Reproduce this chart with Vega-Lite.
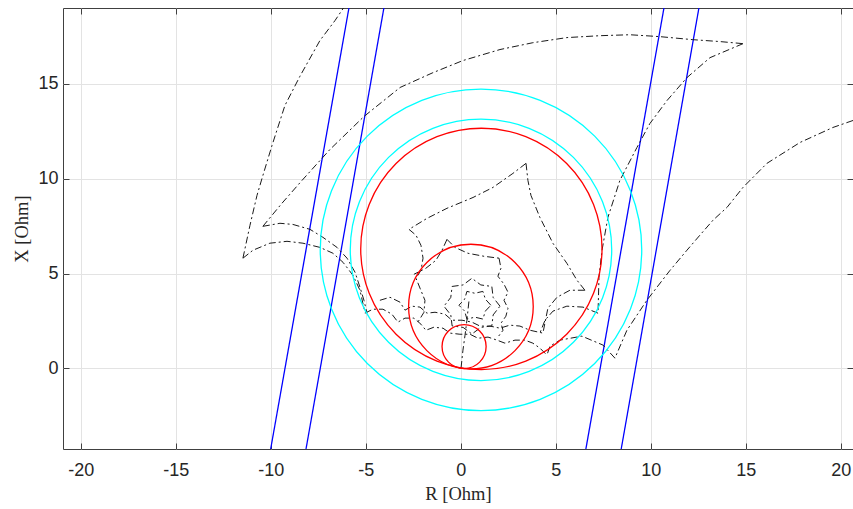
{
  "$schema": "https://vega.github.io/schema/vega-lite/v6.json",
  "width": 790,
  "height": 441,
  "autosize": {"type": "none"},
  "padding": {"left": 63, "top": 8, "right": 0, "bottom": 60},
  "background": "#ffffff",
  "config": {
    "view": {"stroke": "#404040", "strokeWidth": 1},
    "axis": {
      "labelFont": "Liberation Sans", "labelFontSize": 18, "labelColor": "#262626",
      "titleFont": "Liberation Serif", "titleFontSize": 18.5, "titleFontWeight": "normal", "titleColor": "#262626",
      "domainColor": "#404040", "tickColor": "#404040", "gridColor": "#e3e3e3", "gridWidth": 1
    }
  },
  "datasets": {
    "blue": [
      {"id": "a", "r": -10.0, "x": -4.25}, {"id": "a", "r": -5.88, "x": 19.0},
      {"id": "b", "r": -8.14, "x": -4.25}, {"id": "b", "r": -4.04, "x": 19.0},
      {"id": "c", "r": 6.59, "x": -4.25}, {"id": "c", "r": 10.7, "x": 19.0},
      {"id": "d", "r": 8.45, "x": -4.25}, {"id": "d", "r": 12.54, "x": 19.0}
    ],
    "red": [
      {"cr": 0.18, "cx": 1.15, "rad": 1.16},
      {"cr": 0.54, "cx": 3.26, "rad": 3.28},
      {"cr": 1.09, "cx": 6.3, "rad": 6.35}
    ],
    "cyan": [
      {"cr": 1.07, "cx": 6.25, "rad": 6.88},
      {"cr": 1.07, "cx": 6.25, "rad": 8.46}
    ],
    "curves": [
      {"c": "C1", "i": 0, "r": -11.46, "x": 5.81}, {"c": "C1", "i": 1, "r": -11.09, "x": 7.54}, {"c": "C1", "i": 2, "r": -10.72, "x": 9.12}, {"c": "C1", "i": 3, "r": -10.41, "x": 10.17}, {"c": "C1", "i": 4, "r": -9.93, "x": 11.75}, {"c": "C1", "i": 5, "r": -9.25, "x": 13.86}, {"c": "C1", "i": 6, "r": -8.46, "x": 15.4}, {"c": "C1", "i": 7, "r": -7.41, "x": 17.28}, {"c": "C1", "i": 8, "r": -6.62, "x": 18.33}, {"c": "C1", "i": 9, "r": -5.98, "x": 19.28},
      {"c": "C2", "i": 0, "r": -11.46, "x": 5.81}, {"c": "C2", "i": 1, "r": -10.93, "x": 6.23}, {"c": "C2", "i": 2, "r": -10.04, "x": 6.6}, {"c": "C2", "i": 3, "r": -9.14, "x": 6.7}, {"c": "C2", "i": 4, "r": -8.3, "x": 6.6}, {"c": "C2", "i": 5, "r": -7.41, "x": 6.38}, {"c": "C2", "i": 6, "r": -6.72, "x": 6.07}, {"c": "C2", "i": 7, "r": -6.19, "x": 5.59}, {"c": "C2", "i": 8, "r": -5.67, "x": 4.91}, {"c": "C2", "i": 9, "r": -5.3, "x": 4.12}, {"c": "C2", "i": 10, "r": -5.04, "x": 2.96},
      {"c": "C4", "i": 0, "r": -10.41, "x": 7.49}, {"c": "C4", "i": 1, "r": -9.51, "x": 7.65}, {"c": "C4", "i": 2, "r": -8.83, "x": 7.59}, {"c": "C4", "i": 3, "r": -7.93, "x": 7.33}, {"c": "C4", "i": 4, "r": -7.25, "x": 6.91}, {"c": "C4", "i": 5, "r": -6.51, "x": 6.38}, {"c": "C4", "i": 6, "r": -5.98, "x": 5.81}, {"c": "C4", "i": 7, "r": -5.56, "x": 5.07}, {"c": "C4", "i": 8, "r": -5.3, "x": 4.28}, {"c": "C4", "i": 9, "r": -5.09, "x": 3.59}, {"c": "C4", "i": 10, "r": -4.93, "x": 2.91},
      {"c": "C3", "i": 0, "r": -10.41, "x": 7.49}, {"c": "C3", "i": 1, "r": -9.41, "x": 8.7}, {"c": "C3", "i": 2, "r": -8.35, "x": 9.91}, {"c": "C3", "i": 3, "r": -6.88, "x": 11.54}, {"c": "C3", "i": 4, "r": -5.09, "x": 13.28}, {"c": "C3", "i": 5, "r": -3.19, "x": 14.81}, {"c": "C3", "i": 6, "r": -1.46, "x": 15.59}, {"c": "C3", "i": 7, "r": 0.12, "x": 16.23}, {"c": "C3", "i": 8, "r": 2.07, "x": 16.81}, {"c": "C3", "i": 9, "r": 3.8, "x": 17.17}, {"c": "C3", "i": 10, "r": 5.59, "x": 17.44}, {"c": "C3", "i": 11, "r": 7.33, "x": 17.54}, {"c": "C3", "i": 12, "r": 8.91, "x": 17.59}, {"c": "C3", "i": 13, "r": 10.49, "x": 17.49}, {"c": "C3", "i": 14, "r": 12.22, "x": 17.33}, {"c": "C3", "i": 15, "r": 13.65, "x": 17.23}, {"c": "C3", "i": 16, "r": 14.86, "x": 17.12},
      {"c": "C5", "i": 0, "r": 14.86, "x": 17.12}, {"c": "C5", "i": 1, "r": 13.12, "x": 16.38}, {"c": "C5", "i": 2, "r": 11.91, "x": 15.33}, {"c": "C5", "i": 3, "r": 10.86, "x": 14.12}, {"c": "C5", "i": 4, "r": 9.96, "x": 12.91}, {"c": "C5", "i": 5, "r": 9.28, "x": 11.65}, {"c": "C5", "i": 6, "r": 8.38, "x": 9.91}, {"c": "C5", "i": 7, "r": 7.75, "x": 7.96}, {"c": "C5", "i": 8, "r": 7.44, "x": 6.23}, {"c": "C5", "i": 9, "r": 7.28, "x": 4.81}, {"c": "C5", "i": 10, "r": 7.23, "x": 2.91},
      {"c": "S1", "i": 0, "r": 20.65, "x": 13.07}, {"c": "S1", "i": 1, "r": 19.59, "x": 12.7}, {"c": "S1", "i": 2, "r": 17.86, "x": 11.91}, {"c": "S1", "i": 3, "r": 16.12, "x": 10.81}, {"c": "S1", "i": 4, "r": 14.86, "x": 9.54}, {"c": "S1", "i": 5, "r": 14.02, "x": 8.49}, {"c": "S1", "i": 6, "r": 13.28, "x": 7.81}, {"c": "S1", "i": 7, "r": 12.59, "x": 7.02}, {"c": "S1", "i": 8, "r": 11.91, "x": 6.23}, {"c": "S1", "i": 9, "r": 11.02, "x": 5.17}, {"c": "S1", "i": 10, "r": 9.8, "x": 3.59}, {"c": "S1", "i": 11, "r": 8.75, "x": 2.01}, {"c": "S1", "i": 12, "r": 8.12, "x": 0.54},
      {"c": "S2", "i": 0, "r": 8.12, "x": 0.54}, {"c": "S2", "i": 1, "r": 7.49, "x": 1.23}, {"c": "S2", "i": 2, "r": 6.38, "x": 1.7}, {"c": "S2", "i": 3, "r": 5.23, "x": 1.49}, {"c": "S2", "i": 4, "r": 4.7, "x": 1.17}, {"c": "S2", "i": 5, "r": 4.54, "x": 0.7},
      {"c": "C6", "i": 0, "r": 3.44, "x": 10.81}, {"c": "C6", "i": 1, "r": 3.54, "x": 9.91}, {"c": "C6", "i": 2, "r": 3.7, "x": 9.12}, {"c": "C6", "i": 3, "r": 4.17, "x": 7.96}, {"c": "C6", "i": 4, "r": 4.86, "x": 6.59}, {"c": "C6", "i": 5, "r": 5.59, "x": 5.54}, {"c": "C6", "i": 6, "r": 6.12, "x": 4.65}, {"c": "C6", "i": 7, "r": 6.54, "x": 4.12},
      {"c": "C7", "i": 0, "r": 3.44, "x": 10.81}, {"c": "C7", "i": 1, "r": 2.75, "x": 10.28}, {"c": "C7", "i": 2, "r": 1.7, "x": 9.54}, {"c": "C7", "i": 3, "r": 0.65, "x": 9.01}, {"c": "C7", "i": 4, "r": -0.72, "x": 8.44}, {"c": "C7", "i": 5, "r": -1.77, "x": 7.91}, {"c": "C7", "i": 6, "r": -2.72, "x": 7.33},
      {"c": "Aa", "i": 0, "r": 6.54, "x": 4.12}, {"c": "Aa", "i": 1, "r": 5.75, "x": 4.12}, {"c": "Aa", "i": 2, "r": 5.07, "x": 3.75}, {"c": "Aa", "i": 3, "r": 4.59, "x": 3.17}, {"c": "Aa", "i": 4, "r": 4.33, "x": 1.86},
      {"c": "Ab", "i": 0, "r": 7.23, "x": 2.91}, {"c": "Ab", "i": 1, "r": 6.44, "x": 3.23}, {"c": "Ab", "i": 2, "r": 5.59, "x": 3.28}, {"c": "Ab", "i": 3, "r": 4.86, "x": 3.02}, {"c": "Ab", "i": 4, "r": 4.44, "x": 2.54}, {"c": "Ab", "i": 5, "r": 4.17, "x": 1.86},
      {"c": "M1", "i": 0, "r": -2.72, "x": 7.33}, {"c": "M1", "i": 1, "r": -2.35, "x": 7.02}, {"c": "M1", "i": 2, "r": -2.09, "x": 6.49}, {"c": "M1", "i": 3, "r": -1.98, "x": 5.81}, {"c": "M1", "i": 4, "r": -2.09, "x": 5.17}, {"c": "M1", "i": 5, "r": -2.35, "x": 4.75}, {"c": "M1", "i": 6, "r": -2.14, "x": 4.23}, {"c": "M1", "i": 7, "r": -1.88, "x": 3.59}, {"c": "M1", "i": 8, "r": -1.93, "x": 2.96}, {"c": "M1", "i": 9, "r": -2.25, "x": 2.44},
      {"c": "M2", "i": 0, "r": -0.72, "x": 6.8}, {"c": "M2", "i": 1, "r": -0.3, "x": 6.38}, {"c": "M2", "i": 2, "r": 0.38, "x": 6.07}, {"c": "M2", "i": 3, "r": 1.23, "x": 5.91}, {"c": "M2", "i": 4, "r": 2.02, "x": 5.81},
      {"c": "M2b", "i": 0, "r": -0.72, "x": 6.8}, {"c": "M2b", "i": 1, "r": -0.98, "x": 6.23}, {"c": "M2b", "i": 2, "r": -1.3, "x": 5.7}, {"c": "M2b", "i": 3, "r": -1.83, "x": 5.28}, {"c": "M2b", "i": 4, "r": -2.46, "x": 4.96},
      {"c": "M3", "i": 0, "r": 2.02, "x": 5.81}, {"c": "M3", "i": 1, "r": 2.12, "x": 5.28}, {"c": "M3", "i": 2, "r": 1.96, "x": 4.86}, {"c": "M3", "i": 3, "r": 2.28, "x": 4.44}, {"c": "M3", "i": 4, "r": 2.49, "x": 4.02}, {"c": "M3", "i": 5, "r": 2.28, "x": 3.59}, {"c": "M3", "i": 6, "r": 2.49, "x": 3.17}, {"c": "M3", "i": 7, "r": 2.38, "x": 2.75}, {"c": "M3", "i": 8, "r": 2.12, "x": 2.38}, {"c": "M3", "i": 9, "r": 2.23, "x": 2.01}, {"c": "M3", "i": 10, "r": 1.96, "x": 1.65},
      {"c": "R1", "i": 0, "r": 2.07, "x": 3.28}, {"c": "R1", "i": 1, "r": 1.71, "x": 3.74}, {"c": "R1", "i": 2, "r": 1.64, "x": 4.32}, {"c": "R1", "i": 3, "r": 1.06, "x": 4.4}, {"c": "R1", "i": 4, "r": 0.59, "x": 4.75}, {"c": "R1", "i": 5, "r": 0.13, "x": 4.4}, {"c": "R1", "i": 6, "r": -0.45, "x": 4.32}, {"c": "R1", "i": 7, "r": -0.52, "x": 3.74}, {"c": "R1", "i": 8, "r": -0.88, "x": 3.28}, {"c": "R1", "i": 9, "r": -0.52, "x": 2.82}, {"c": "R1", "i": 10, "r": -0.45, "x": 2.24}, {"c": "R1", "i": 11, "r": 0.13, "x": 2.16}, {"c": "R1", "i": 12, "r": 0.59, "x": 1.81}, {"c": "R1", "i": 13, "r": 1.06, "x": 2.16}, {"c": "R1", "i": 14, "r": 1.64, "x": 2.24}, {"c": "R1", "i": 15, "r": 1.71, "x": 2.82}, {"c": "R1", "i": 16, "r": 2.07, "x": 3.28},
      {"c": "R2", "i": 0, "r": 1.59, "x": 3.33}, {"c": "R2", "i": 1, "r": 1.3, "x": 3.65}, {"c": "R2", "i": 2, "r": 1.17, "x": 4.06}, {"c": "R2", "i": 3, "r": 0.75, "x": 3.96}, {"c": "R2", "i": 4, "r": 0.33, "x": 4.06}, {"c": "R2", "i": 5, "r": 0.21, "x": 3.65}, {"c": "R2", "i": 6, "r": -0.09, "x": 3.33}, {"c": "R2", "i": 7, "r": 0.21, "x": 3.02}, {"c": "R2", "i": 8, "r": 0.33, "x": 2.6}, {"c": "R2", "i": 9, "r": 0.75, "x": 2.7}, {"c": "R2", "i": 10, "r": 1.17, "x": 2.6}, {"c": "R2", "i": 11, "r": 1.3, "x": 3.02}, {"c": "R2", "i": 12, "r": 1.59, "x": 3.33},
      {"c": "V", "i": 0, "r": 0.02, "x": 0.02}, {"c": "V", "i": 1, "r": 0.12, "x": 0.96}, {"c": "V", "i": 2, "r": 0.23, "x": 1.75}, {"c": "V", "i": 3, "r": 0.33, "x": 2.54}, {"c": "V", "i": 4, "r": 0.44, "x": 3.59},
      {"c": "LBa", "i": 0, "r": -5.04, "x": 2.91}, {"c": "LBa", "i": 1, "r": -4.62, "x": 3.12}, {"c": "LBa", "i": 2, "r": -4.09, "x": 3.12}, {"c": "LBa", "i": 3, "r": -3.62, "x": 2.86}, {"c": "LBa", "i": 4, "r": -3.3, "x": 2.44}, {"c": "LBa", "i": 5, "r": -2.93, "x": 2.65}, {"c": "LBa", "i": 6, "r": -2.46, "x": 2.65}, {"c": "LBa", "i": 7, "r": -2.09, "x": 2.33}, {"c": "LBa", "i": 8, "r": -1.83, "x": 2.01}, {"c": "LBa", "i": 9, "r": -1.41, "x": 2.17}, {"c": "LBa", "i": 10, "r": -0.93, "x": 2.12}, {"c": "LBa", "i": 11, "r": -0.56, "x": 1.86}, {"c": "LBa", "i": 12, "r": -0.04, "x": 1.8}, {"c": "LBa", "i": 13, "r": 0.49, "x": 1.8}, {"c": "LBa", "i": 14, "r": 0.91, "x": 1.59}, {"c": "LBa", "i": 15, "r": 1.44, "x": 1.65}, {"c": "LBa", "i": 16, "r": 1.91, "x": 1.49}, {"c": "LBa", "i": 17, "r": 2.33, "x": 1.33}, {"c": "LBa", "i": 18, "r": 2.86, "x": 1.49}, {"c": "LBa", "i": 19, "r": 3.38, "x": 1.49}, {"c": "LBa", "i": 20, "r": 3.8, "x": 1.33}, {"c": "LBa", "i": 21, "r": 4.17, "x": 1.07}, {"c": "LBa", "i": 22, "r": 4.54, "x": 0.7},
      {"c": "LBb", "i": 0, "r": -4.25, "x": 3.59}, {"c": "LBb", "i": 1, "r": -3.72, "x": 3.75}, {"c": "LBb", "i": 2, "r": -3.19, "x": 3.49}, {"c": "LBb", "i": 3, "r": -2.93, "x": 3.07}, {"c": "LBb", "i": 4, "r": -2.56, "x": 3.28}, {"c": "LBb", "i": 5, "r": -2.14, "x": 3.23}, {"c": "LBb", "i": 6, "r": -1.77, "x": 2.91}, {"c": "LBb", "i": 7, "r": -1.35, "x": 2.96}, {"c": "LBb", "i": 8, "r": -0.83, "x": 2.86}, {"c": "LBb", "i": 9, "r": -0.46, "x": 2.54}, {"c": "LBb", "i": 10, "r": 0.07, "x": 2.54}, {"c": "LBb", "i": 11, "r": 0.59, "x": 2.44}, {"c": "LBb", "i": 12, "r": 1.02, "x": 2.23}, {"c": "LBb", "i": 13, "r": 1.54, "x": 2.23}, {"c": "LBb", "i": 14, "r": 2.07, "x": 2.12}, {"c": "LBb", "i": 15, "r": 2.59, "x": 2.28}, {"c": "LBb", "i": 16, "r": 3.12, "x": 2.23}, {"c": "LBb", "i": 17, "r": 3.65, "x": 2.01}, {"c": "LBb", "i": 18, "r": 4.33, "x": 1.86}
    ]
  },
  "resolve": {"axis": {"x": "independent", "y": "independent"}},
  "layer": [
    {
      "data": {"name": "blue"},
      "mark": {"type": "line", "color": "#0000ff", "strokeWidth": 1.3, "clip": true},
      "encoding": {
        "x": {"field": "r", "type": "quantitative", "scale": {"domain": [-20.93, 20.65], "nice": false, "zero": false},
              "axis": {"values": [-20, -15, -10, -5, 0, 5, 10, 15, 20], "labelExpr": "datum.value < 0 ? '-' + abs(datum.value) : '' + datum.value", "title": "R [Ohm]", "tickSize": -6, "labelPadding": 18, "titlePadding": 5, "grid": true, "domain": false}},
        "y": {"field": "x", "type": "quantitative", "scale": {"domain": [-4.25, 19.0], "nice": false, "zero": false},
              "axis": {"values": [0, 5, 10, 15], "labelExpr": "datum.value < 0 ? '-' + abs(datum.value) : '' + datum.value", "title": "X [Ohm]", "tickSize": -6, "labelPadding": 11, "titlePadding": 6, "grid": true, "domain": false}},
        "detail": {"field": "id"}
      }
    },
    {
      "data": {"name": "curves"},
      "mark": {"type": "line", "color": "#1a1a1a", "strokeWidth": 1, "strokeDash": [7, 3, 2, 3], "clip": true},
      "encoding": {
        "x": {"field": "r", "type": "quantitative", "scale": {"domain": [-20.93, 20.65], "nice": false, "zero": false},
              "axis": {"orient": "top", "values": [-20, -15, -10, -5, 0, 5, 10, 15, 20], "labels": false, "title": null, "tickSize": -6, "grid": false, "domain": false}},
        "y": {"field": "x", "type": "quantitative", "scale": {"domain": [-4.25, 19.0], "nice": false, "zero": false},
              "axis": {"orient": "right", "values": [0, 5, 10, 15], "labels": false, "title": null, "tickSize": -6, "grid": false, "domain": false}},
        "detail": {"field": "c"},
        "order": {"field": "i", "type": "quantitative"}
      }
    },
    {
      "data": {"name": "cyan"},
      "mark": {"type": "point", "shape": "circle", "filled": false, "color": "#00ffff", "strokeWidth": 1.3, "opacity": 1, "clip": true},
      "encoding": {
        "x": {"field": "cr", "type": "quantitative", "axis": null},
        "y": {"field": "cx", "type": "quantitative", "axis": null},
        "size": {"field": "rad", "type": "quantitative", "scale": {"type": "pow", "exponent": 2, "domain": [0, 10], "range": [0, 144400]}, "legend": null}
      }
    },
    {
      "data": {"name": "red"},
      "mark": {"type": "point", "shape": "circle", "filled": false, "color": "#ff0000", "strokeWidth": 1.3, "opacity": 1, "clip": true},
      "encoding": {
        "x": {"field": "cr", "type": "quantitative", "axis": null},
        "y": {"field": "cx", "type": "quantitative", "axis": null},
        "size": {"field": "rad", "type": "quantitative", "scale": {"type": "pow", "exponent": 2, "domain": [0, 10], "range": [0, 144400]}, "legend": null}
      }
    }
  ]
}
